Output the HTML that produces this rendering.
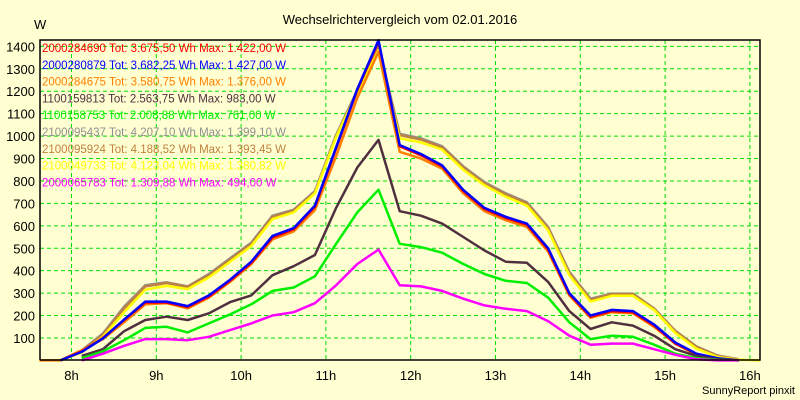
<!DOCTYPE html>
<html><head><meta charset="utf-8"><style>
html,body{margin:0;padding:0;background:#ffffd2;}
svg{display:block;font-family:"Liberation Sans",sans-serif;}
</style></head><body>
<svg id="chart" width="800" height="400">
<rect x="0" y="0" width="800" height="400" fill="#ffffd2"/>
<text x="400" y="24" text-anchor="middle" font-size="13" fill="#000">Wechselrichtervergleich vom 02.01.2016</text>
<text x="34" y="29" font-size="13" fill="#000">W</text>
<text x="795" y="394" text-anchor="end" font-size="11" fill="#000">SunnyReport pinxit</text>
<g id="grid"></g>
<g id="series"></g>
<g id="legend"></g>
<g id="axes"></g>
</svg>
<script>
const times=[7.62,7.87,8.12,8.37,8.62,8.87,9.12,9.37,9.62,9.87,10.12,10.37,10.62,10.87,11.12,11.37,11.62,11.87,12.12,12.37,12.62,12.87,13.12,13.37,13.62,13.87,14.12,14.37,14.62,14.87,15.12,15.37,15.62,15.87,16.12];
const yTicks=[100,200,300,400,500,600,700,800,900,1000,1100,1200,1300,1400];
const xTicks=[8,9,10,11,12,13,14,15,16];
const names=["2000284690","2000280879","2000284675","1100159813","1100158753","2100095437","2100095924","2100049733","2000065783"];
const totals=["3.675,50","3.682,25","3.580,75","2.563,75","2.008,88","4.207,10","4.188,52","4.123,04","1.309,88"];
const maxes=["1.422,00","1.427,00","1.376,00","983,00","761,00","1.399,10","1.393,45","1.380,82","494,00"];
const colors=["#ff0000","#0000ff","#ff8000","#503040","#00ee00","#909090","#c08040","#ffff00","#ff00ff"];
const sRed=[null,0,40,100,180,258,258,238,285,355,435,548,585,685,945,1205,1422,955,915,865,755,675,635,605,495,295,195,220,215,155,75,28,8,0,null];
const sBlue=[null,0,38,98,182,262,262,242,290,360,440,555,590,690,950,1210,1427,960,920,870,760,680,640,610,500,300,200,225,220,160,80,30,10,0,null];
const sOrange=[0,0,45,95,170,250,255,232,280,350,430,540,575,670,910,1170,1376,930,900,855,745,665,625,595,485,290,190,215,210,150,75,25,8,0,null];
const sDark=[null,null,20,50,130,180,195,180,210,260,290,380,420,470,680,860,983,665,645,610,550,490,440,435,350,220,140,170,155,110,50,20,5,0,null];
const sGreen=[null,null,10,40,90,145,150,125,165,205,250,310,325,375,520,660,761,520,505,480,430,385,355,345,280,170,95,110,105,70,30,10,2,0,null];
const sGray=[null,0,45,120,240,335,348,330,385,455,525,645,672,755,1005,1205,1399,1010,990,955,865,795,745,705,595,395,275,298,298,232,132,62,22,5,null];
const sBrown=[null,0,42,115,232,330,345,328,380,450,520,640,668,750,1000,1200,1393,1005,985,950,860,790,740,700,590,390,270,295,295,230,130,60,20,5,null];
const sYellow=[null,0,35,105,215,315,332,318,370,440,510,630,660,745,995,1195,1381,990,972,940,850,780,730,690,580,380,262,288,288,225,122,52,15,3,0];
const sMagenta=[null,null,0,30,65,95,95,90,105,135,165,200,215,255,335,430,494,335,330,310,275,245,230,220,175,110,70,75,75,50,25,5,0,0,null];
const seriesData=[sRed,sBlue,sOrange,sDark,sGreen,sGray,sBrown,sYellow,sMagenta];
const drawOrder=[5,6,7,2,0,1,3,4,8];

const NS="http://www.w3.org/2000/svg";
const L=40,R=760,T=40,B=360;
const xS=h=>71.5+(h-8)*84.8;
const yS=v=>360.4-v*0.2243;
function mk(tag,attrs,parent){const e=document.createElementNS(NS,tag);for(const k in attrs)e.setAttribute(k,attrs[k]);parent.appendChild(e);return e;}
const grid=document.getElementById('grid'),axes=document.getElementById('axes'),ser=document.getElementById('series'),leg=document.getElementById('legend');
yTicks.forEach(v=>{
 const y=yS(v);
 const g=mk('line',{x1:L,x2:R,y1:y,y2:y,stroke:'#00dd00','stroke-dasharray':'4,3'},grid);
 
 
 const t=mk('text',{x:35,y:y+5,'text-anchor':'end','font-size':13,fill:'#000'},axes);
 t.textContent=v;
 
 
});
xTicks.forEach(h=>{
 const x=xS(h);
 const g=mk('line',{x1:x,x2:x,y1:T,y2:B,stroke:'#00dd00','stroke-dasharray':'4,3'},grid);
 
 
 const t=mk('text',{x:x,y:380,'text-anchor':'middle','font-size':13,fill:'#000'},axes);
 t.textContent=h+'h';
 
 
});
const frame=mk('path',{d:`M${L},${B} L${L},${T} L${R},${T} L${R},${B} L${L},${B}`,fill:'none',stroke:'#000','stroke-width':1.5},axes);


drawOrder.forEach(i=>{
 const arr=seriesData[i];let d='';let pen=false;
 arr.forEach((v,j)=>{if(v===null){pen=false;return;}d+=(pen?'L':'M')+xS(times[j]).toFixed(1)+','+yS(v).toFixed(1)+' ';pen=true;});
 const p=mk('path',{d:d,fill:'none',stroke:colors[i],'stroke-width':2.5,'stroke-linejoin':'round'},ser);
 
 
});
names.forEach((n,i)=>{
 const t=mk('text',{x:42,y:52+i*16.8,'font-size':11.5,fill:colors[i]},leg);
 t.textContent=n+' Tot: '+totals[i]+' Wh Max: '+maxes[i]+' W';
 
 
});
</script>
</body></html>
